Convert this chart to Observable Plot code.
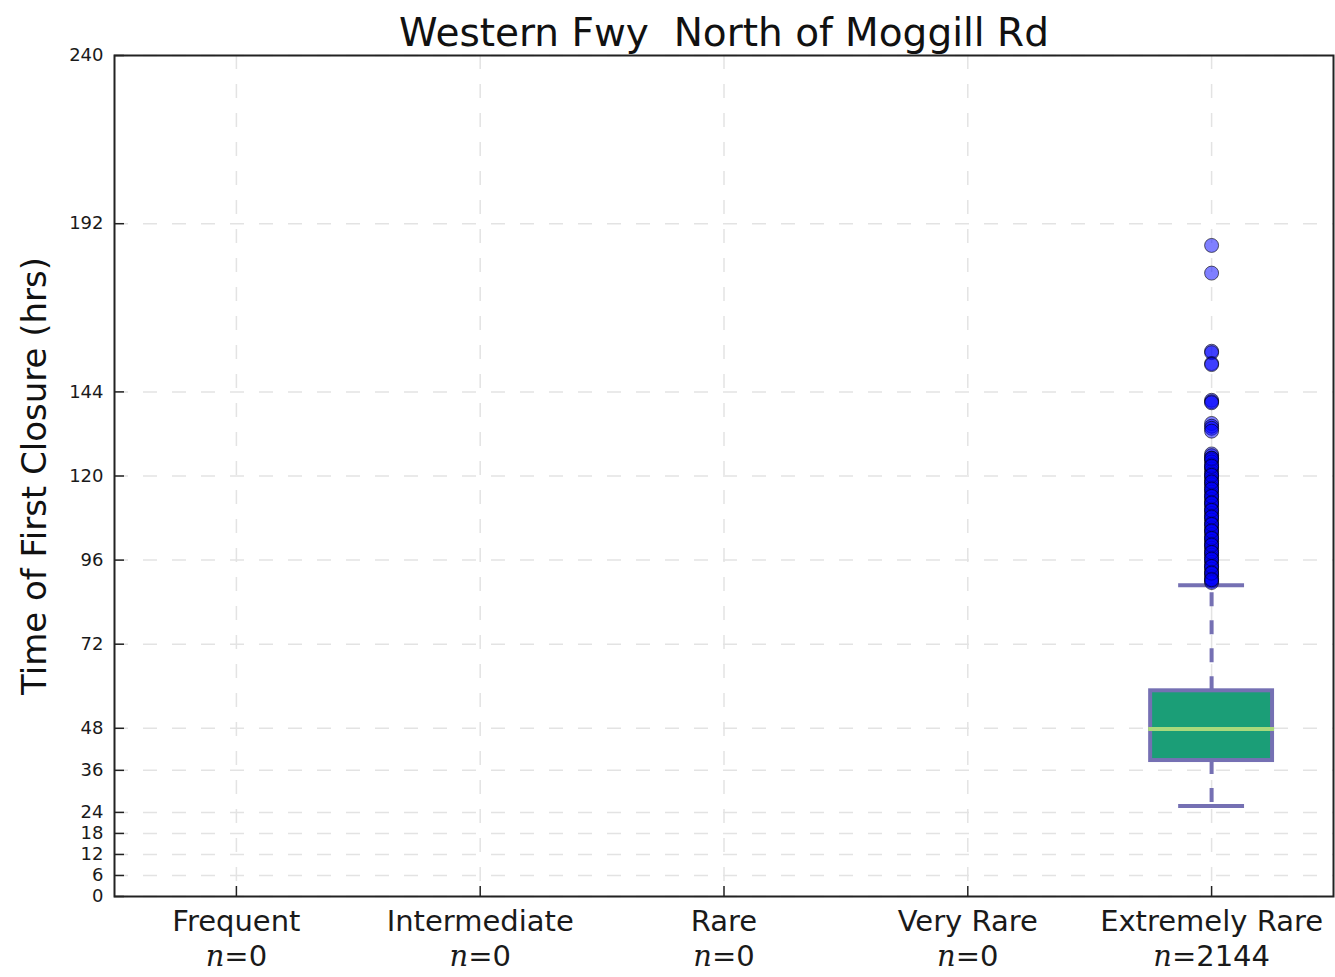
<!DOCTYPE html>
<html>
<head>
<meta charset="utf-8">
<script src="https://cdn.jsdelivr.net/npm/d3@7"></script>
<script src="https://cdn.jsdelivr.net/npm/@observablehq/plot@0.6"></script>
<style>
  html, body { margin: 0; padding: 0; background: white; }
</style>
</head>
<body>
<div id="chart"></div>
<script>
const title = "Western Fwy  North of Moggill Rd";
const yLabel = "Time of First Closure (hrs)";
const categories = ["Frequent", "Intermediate", "Rare", "Very Rare", "Extremely Rare"];
const counts = [0, 0, 0, 0, 2144];
const yTicks = [0, 6, 12, 18, 24, 36, 48, 72, 96, 120, 144, 192, 240];

const boxCategory = "Extremely Rare";
const q1 = 38.8;
const median = 47.8;
const q3 = 58.7;
const whiskerLow = 25.8;
const whiskerHigh = 88.8;
const outliers = [
  185.8, 177.9, 155.6, 155.2, 152.1, 151.8, 141.6, 141.2, 140.9,
  135.0, 134.2, 133.6, 132.8,
  126.3, 125.8, 125.1, 124.6, 124.0, 123.2, 122.5, 122.0, 121.3, 120.6,
  120.0, 119.4, 118.7, 118.0, 117.5, 116.8, 116.0, 115.4, 114.7, 114.0,
  113.3, 112.6, 112.0, 111.4, 110.6, 110.0, 109.3, 108.7, 108.0, 107.4,
  106.6, 106.0, 105.2, 104.6, 104.0, 103.3, 102.6, 102.0, 101.3, 100.7,
  100.0, 99.4, 98.7, 98.0, 97.4, 96.8, 96.0, 95.4, 94.7, 94.0, 93.4,
  92.6, 92.0, 91.3, 90.7, 90.0, 89.6,
  125.0, 122.8, 120.2, 118.3, 116.3, 114.2, 112.3, 110.2, 108.3, 106.2,
  104.3, 102.2, 100.3, 98.2, 96.3, 94.2, 92.3, 90.4
];

const boxData = [{cat: boxCategory, q1, median, q3, lo: whiskerLow, hi: whiskerHigh}];
const nLabels = categories.map((c, i) => ({cat: c, n: counts[i]}));

const purple = "#7570b3";
const grid = {stroke: "#e3e3e3", strokeOpacity: 1, strokeWidth: 1.5, strokeDasharray: "14,15"};

const plot = Plot.plot({
  width: 1335,
  height: 977,
  marginLeft: 114,
  marginRight: 2,
  marginTop: 55,
  marginBottom: 81,
  style: {fontFamily: "DejaVu Sans", background: "white", color: "#1a1a1a", overflow: "visible"},
  x: {type: "band", domain: categories, paddingInner: 0.5, paddingOuter: 0.25, round: false, label: null},
  y: {domain: [0, 240], label: null},
  marks: [
    Plot.gridY(yTicks, grid),
    Plot.gridX(categories, grid),
    // whiskers
    Plot.ruleX(boxData, {x: "cat", y1: "q3", y2: "hi", stroke: purple, strokeWidth: 4, strokeDasharray: "14,14"}),
    Plot.ruleX(boxData, {x: "cat", y1: "q1", y2: "lo", stroke: purple, strokeWidth: 4, strokeDasharray: "14,14"}),
    // caps
    Plot.tickY(boxData, {x: "cat", y: "hi", stroke: purple, strokeWidth: 4, insetLeft: 28, insetRight: 28}),
    Plot.tickY(boxData, {x: "cat", y: "lo", stroke: purple, strokeWidth: 4, insetLeft: 28, insetRight: 28}),
    // box
    Plot.barY(boxData, {x: "cat", y1: "q1", y2: "q3", fill: "#1b9e77", stroke: purple, strokeWidth: 4}),
    // median
    Plot.tickY(boxData, {x: "cat", y: "median", stroke: "#a9d97c", strokeWidth: 4, insetLeft: -2, insetRight: -2}),
    // outliers
    Plot.dot(outliers, {x: () => boxCategory, y: d => d, r: 7, fill: "#0000ff", fillOpacity: 0.5, stroke: "#000", strokeOpacity: 0.6, strokeWidth: 1}),
    Plot.frame({stroke: "#222", strokeWidth: 2}),
    // inward ticks
    Plot.tickY(yTicks, {y: d => d, stroke: "#222", strokeWidth: 1.5, insetRight: 1335 - 114 - 2 - 10}),
    Plot.tickX(categories, {x: d => d, stroke: "#222", strokeWidth: 1.5, insetTop: 977 - 55 - 81 - 10}),
    Plot.axisY(yTicks, {tickSize: 0, tickPadding: 11, fontSize: 18, tickFormat: d => String(d)}),
    Plot.axisX({tickSize: 0, tickPadding: 14, fontSize: 29}),
    Plot.text(nLabels, {x: "cat", text: d => "n=" + d.n, frameAnchor: "bottom", lineAnchor: "top", dy: 49, fontSize: 29}),
    Plot.text([title], {frameAnchor: "top", lineAnchor: "bottom", dy: -10, fontSize: 39, fill: "#111"}),
    Plot.text([yLabel], {frameAnchor: "left", textAnchor: "middle", lineAnchor: "middle", rotate: -90, dx: -79, fontSize: 34, fill: "#111"})
  ]
});

// italic math-style "n" in the count labels
d3.select(plot).selectAll("text").each(function() {
  const t = d3.select(this);
  const s = t.text();
  if (!/^n=\d+$/.test(s)) return;
  const tn = t.select("tspan");
  t.selectAll("*").remove();
  t.text(null);
  t.append("tspan").attr("font-family", "DejaVu Serif").attr("font-style", "italic").text("n");
  t.append("tspan").text(s.slice(1));
});

document.getElementById("chart").appendChild(plot);
</script>
</body>
</html>
